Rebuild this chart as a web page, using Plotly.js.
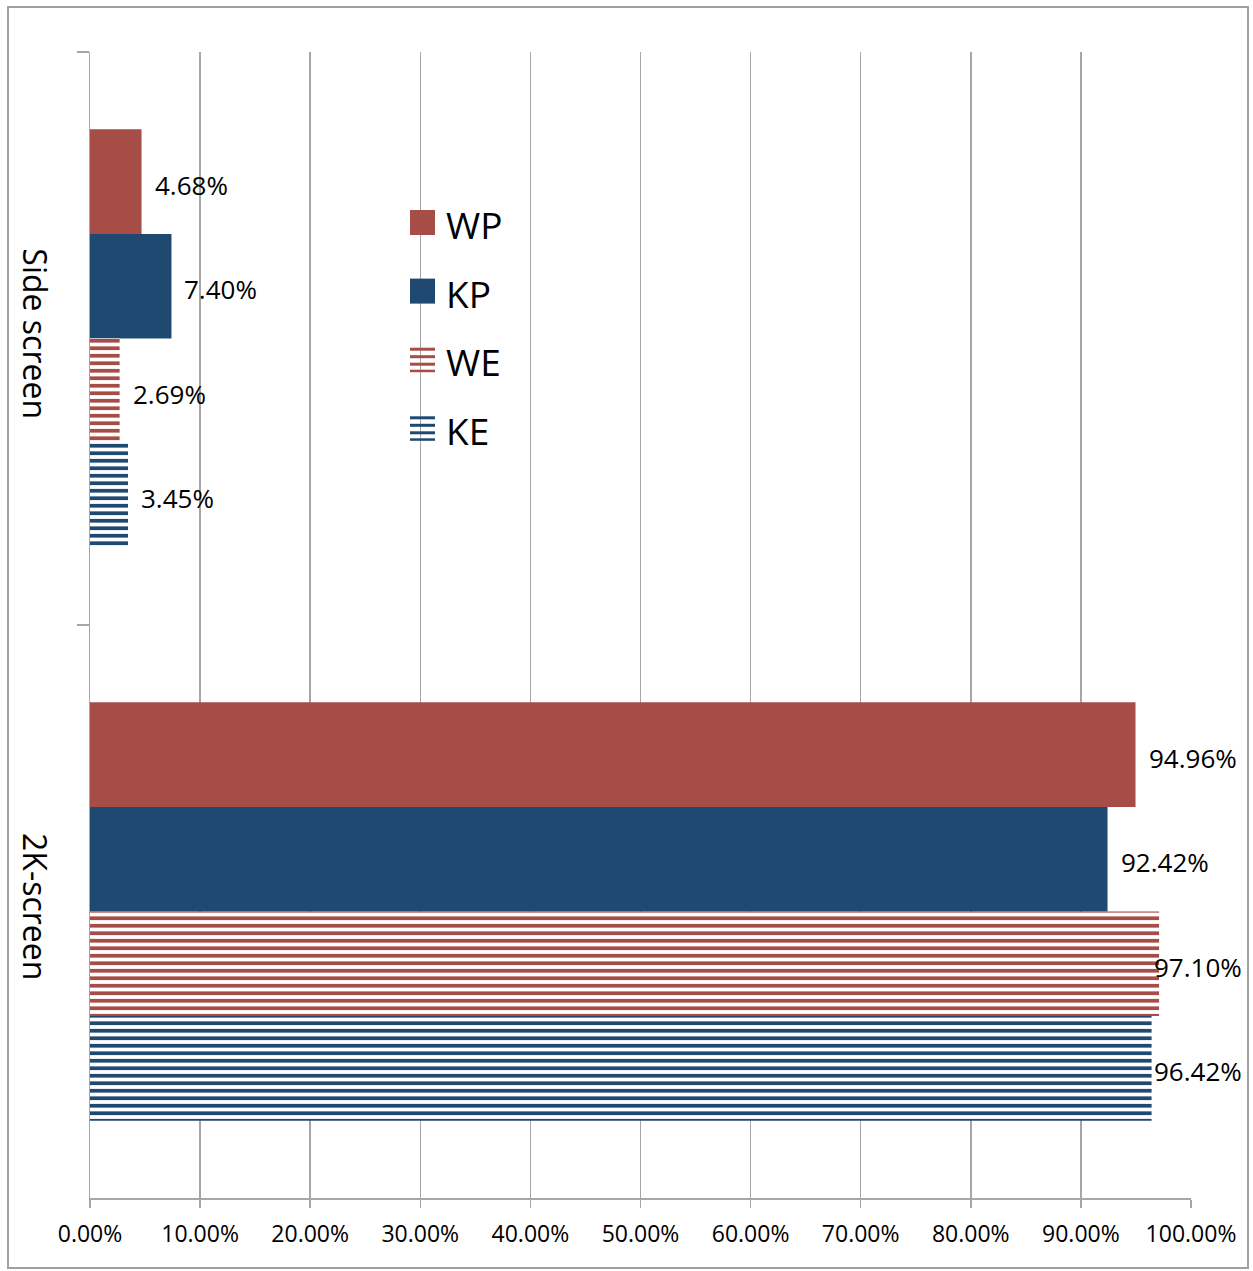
<!DOCTYPE html>
<html>
<head>
<meta charset="utf-8">
<script src="https://cdn.plot.ly/plotly-3.0.1.min.js"></script>
<style>
  html, body { margin: 0; padding: 0; background: #ffffff; }
  #chart { width: 1253px; height: 1271px; }
</style>
</head>
<body>
<div id="chart"></div>
<script>
// Categories and series values (shares, 0..1)
const categories = ['Side screen', '2K-screen'];
const seriesNames = ['WP', 'KP', 'WE', 'KE'];
const wpValues = [0.0468, 0.9496];
const kpValues = [0.0740, 0.9242];
const weValues = [0.0269, 0.9710];
const keValues = [0.0345, 0.9642];
const xTickValues = [0, 0.1, 0.2, 0.3, 0.4, 0.5, 0.6, 0.7, 0.8, 0.9, 1.0];

const RED = '#A74D47';
const BLUE = '#1F4971';
const GRID = '#A6A6A6';
const FONT = '"Open Sans", "Noto Sans", sans-serif';
const LABEL_SIZE = 26;

const seriesValues = [wpValues, kpValues, weValues, keValues];
const seriesColors = [RED, BLUE, RED, BLUE];
const seriesStriped = [false, false, true, true];

// Plot area geometry in pixels
const W = 1253, H = 1271;
const M = { l: 90, r: 62, t: 52, b: 73 };
const plotW = W - M.l - M.r;
const plotH = H - M.t - M.b;
const X_RANGE = [0, 1];
const px2x = px => (px - M.l) / plotW;
const py2y = py => (H - M.b - py) / plotH;
const val2paper = v => (v - X_RANGE[0]) / (X_RANGE[1] - X_RANGE[0]);

const BARGAP = 0.27;
const barUnits = (1 - BARGAP) / seriesNames.length;

const traces = seriesNames.map((name, i) => {
  const marker = { color: seriesColors[i], line: { width: 0 } };
  if (seriesStriped[i]) {
    marker.pattern = {
      shape: '-',
      fgcolor: seriesColors[i],
      bgcolor: '#ffffff',
      size: 7.5,
      solidity: 0.5,
      fillmode: 'replace'
    };
  }
  return {
    type: 'bar',
    orientation: 'h',
    name: name,
    y: categories,
    x: seriesValues[i],
    marker: marker,
    hoverinfo: 'skip'
  };
});

const shapes = [];
const annotations = [];

// Outer chart border
shapes.push({
  type: 'rect', xref: 'paper', yref: 'paper', layer: 'below',
  x0: px2x(8), x1: px2x(1248), y0: py2y(1268), y1: py2y(7),
  line: { color: '#A0A0A0', width: 2 }, fillcolor: 'rgba(0,0,0,0)'
});

// Value labels: placed just right of each bar end, pulled back inside
// the chart frame when they would run past its right edge
const measureCtx = document.createElement('canvas').getContext('2d');
measureCtx.font = LABEL_SIZE + 'px "Open Sans"';
const LABEL_GAP = 12;
const LABEL_LIMIT_PX = 1243;
seriesValues.forEach((vals, i) => {
  vals.forEach((v, j) => {
    const txt = (v * 100).toFixed(2) + '%';
    const endPx = M.l + val2paper(v) * plotW;
    const wTxt = measureCtx.measureText(txt).width;
    const overflow = endPx + LABEL_GAP + wTxt > LABEL_LIMIT_PX;
    annotations.push({
      xref: 'paper', yref: 'y',
      x: overflow ? px2x(LABEL_LIMIT_PX) : val2paper(v),
      xshift: overflow ? 0 : LABEL_GAP,
      xanchor: overflow ? 'right' : 'left',
      y: j + (i - (seriesNames.length - 1) / 2) * barUnits,
      yshift: -3,
      yanchor: 'middle',
      text: txt, showarrow: false,
      borderpad: 0,
      font: { family: FONT, size: LABEL_SIZE, color: '#000000' }
    });
  });
});

// Legend drawn as large swatches with labels
const legX0 = 410, legSize = 25, legTop0 = 210, legStep = 68.6;
seriesNames.forEach((name, i) => {
  const top = legTop0 + i * legStep;
  if (!seriesStriped[i]) {
    shapes.push({
      type: 'rect', xref: 'paper', yref: 'paper',
      x0: px2x(legX0), x1: px2x(legX0 + legSize),
      y0: py2y(top + legSize), y1: py2y(top),
      line: { width: 0 }, fillcolor: seriesColors[i]
    });
  } else {
    [0.5, 8, 15.5, 22.5].forEach(off => {
      shapes.push({
        type: 'rect', xref: 'paper', yref: 'paper',
        x0: px2x(legX0), x1: px2x(legX0 + legSize),
        y0: py2y(top + Math.min(off + 3, legSize)), y1: py2y(top + off),
        line: { width: 0 }, fillcolor: seriesColors[i]
      });
    });
  }
  annotations.push({
    xref: 'paper', yref: 'paper',
    x: px2x(legX0 + legSize + 9), y: py2y(top + legSize / 2 + 2),
    xanchor: 'left', yanchor: 'middle',
    text: name, showarrow: false,
    font: { family: FONT, size: 37, color: '#000000' }
  });
});

const layout = {
  width: W, height: H,
  margin: { l: M.l, r: M.r, t: M.t, b: M.b, pad: 0 },
  paper_bgcolor: '#ffffff', plot_bgcolor: '#ffffff',
  font: { family: FONT, color: '#000000' },
  barmode: 'group', bargap: BARGAP, bargroupgap: 0,
  showlegend: false,
  xaxis: {
    range: X_RANGE,
    tickvals: xTickValues,
    tickformat: '.2%',
    showgrid: true, gridcolor: GRID, gridwidth: 1.5,
    zeroline: false,
    showline: true, linecolor: GRID, linewidth: 1.5,
    ticks: 'outside', ticklen: 8, tickcolor: GRID, tickwidth: 1.5,
    ticklabelstandoff: 7,
    tickfont: { family: FONT, size: 23, color: '#000000' },
    fixedrange: true
  },
  yaxis: {
    type: 'category',
    categoryorder: 'array', categoryarray: categories,
    range: [1.5, -0.5],
    tickson: 'boundaries',
    ticks: 'outside', ticklen: 12, tickcolor: GRID, tickwidth: 1.5,
    showline: true, linecolor: GRID, linewidth: 1.5,
    showgrid: false, zeroline: false,
    tickangle: 90,
    ticklabelstandoff: 27,
    tickfont: { family: FONT, size: 32, color: '#000000' },
    fixedrange: true
  },
  shapes: shapes,
  annotations: annotations
};

Plotly.newPlot('chart', traces, layout, { staticPlot: true, displayModeBar: false });
</script>
</body>
</html>
